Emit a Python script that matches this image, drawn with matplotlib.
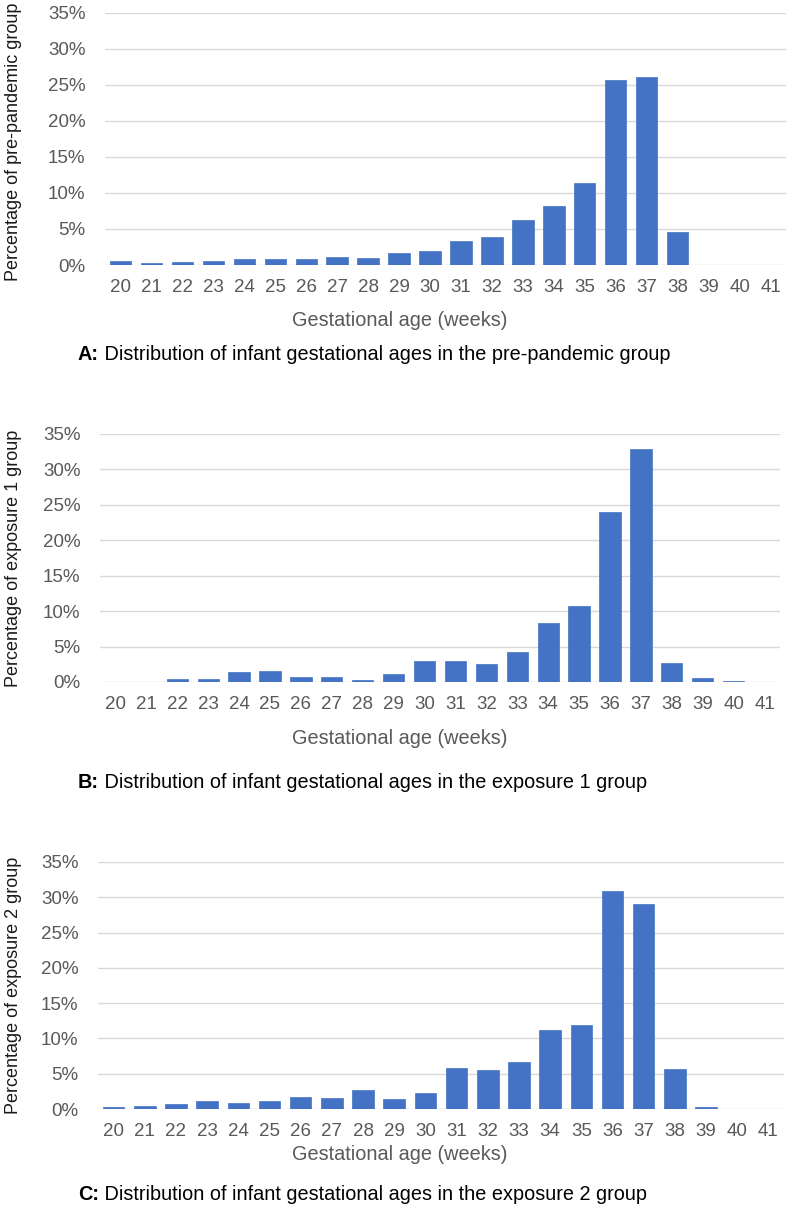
import matplotlib
matplotlib.use('Agg')
import matplotlib.pyplot as plt
from matplotlib.ticker import MultipleLocator, FuncFormatter

# dados (% por semana de idade gestacional)
weeks = list(range(20, 42))
pre_pandemic = [0.55, 0.27, 0.37, 0.55, 0.87, 0.87, 0.87, 1.15, 1.0, 1.7, 2.0,
                3.3, 3.9, 6.3, 8.2, 11.4, 25.6, 26.1, 4.6, 0, 0, 0]
exposure_1 = [0, 0, 0.47, 0.47, 1.41, 1.55, 0.66, 0.66, 0.23, 1.13, 3.0,
              3.0, 2.58, 4.23, 8.27, 10.66, 24.05, 32.88, 2.72, 0.61, 0.19, 0]
exposure_2 = [0.24, 0.38, 0.66, 1.09, 0.8, 1.09, 1.7, 1.56, 2.74, 1.42, 2.31,
              5.76, 5.48, 6.66, 11.2, 11.95, 30.85, 29.0, 5.62, 0.33, 0, 0]

ylabels = ['Percentage of pre-pandemic group',
           'Percentage of exposure 1 group',
           'Percentage of exposure 2 group']
letters = ['A:', 'B:', 'C:']
captions = [' Distribution of infant gestational ages in the pre-pandemic group',
            ' Distribution of infant gestational ages in the exposure 1 group',
            ' Distribution of infant gestational ages in the exposure 2 group']
xlabel = 'Gestational age (weeks)'

W, H = 786, 1215
# layout em pixels: left, right, top, bottom, y do xlabel, y da legenda, centro do ylabel
layout = [
    (105, 786, 12.5, 265, 320, 355, 142),
    (100, 780, 434, 682, 738, 782, 558),
    (98, 784, 862, 1109, 1155, 1195, 985),
]

BAR = '#4472C4'
TXT = '#595959'
GRID = '#D9D9D9'
FS_TICK = 13.5
FS_YLAB = 13
FS_LAB = 14.3

plt.rcParams['font.family'] = ['Liberation Sans', 'DejaVu Sans']

fig = plt.figure(figsize=(W / 100, H / 100), dpi=100)
renderer = fig.canvas.get_renderer()

series = [pre_pandemic, exposure_1, exposure_2]
for i, valores in enumerate(series):
    l, r, t, b, yx, yc, ym = layout[i]
    ax = fig.add_axes([l / W, 1 - b / H, (r - l) / W, (b - t) / H])
    pos = list(range(len(weeks)))
    ax.bar(pos, valores, width=0.69, color=BAR, edgecolor=BAR, linewidth=0.5, zorder=3)
    ax.set_xlim(-0.5, len(weeks) - 0.5)
    ax.set_ylim(0, 35)
    ax.yaxis.set_major_locator(MultipleLocator(5))
    ax.yaxis.set_major_formatter(FuncFormatter(lambda v, p: f'{v:.0f}%'))
    ax.set_xticks(pos)
    ax.set_xticklabels([str(w) for w in weeks])
    ax.grid(axis='y', color=GRID, linewidth=1.0, zorder=0)
    for s in ax.spines.values():
        s.set_visible(False)
    ax.tick_params(axis='both', length=0, labelsize=FS_TICK, colors=TXT)
    ax.tick_params(axis='x', pad=10)
    ax.tick_params(axis='y', pad=14)
    ax.set_ylabel(ylabels[i], fontsize=FS_YLAB, color='#1a1a1a')
    # borda direita do rotulo girado em x = 22 px
    ax.yaxis.set_label_coords((22 - l) / (r - l), (b - ym) / (b - t))

    fig.text(400 / W, 1 - yx / H, xlabel, fontsize=FS_LAB, color=TXT,
             ha='center', va='center')

    t1 = fig.text(78 / W, 1 - yc / H, letters[i], fontsize=FS_LAB, fontweight='bold',
                  color='black', ha='left', va='center')
    bb = t1.get_window_extent(renderer=renderer)
    fig.text(bb.x1 / W, 1 - yc / H, captions[i], fontsize=FS_LAB,
             color='black', ha='left', va='center')

fig.savefig('out.png', dpi=100)
